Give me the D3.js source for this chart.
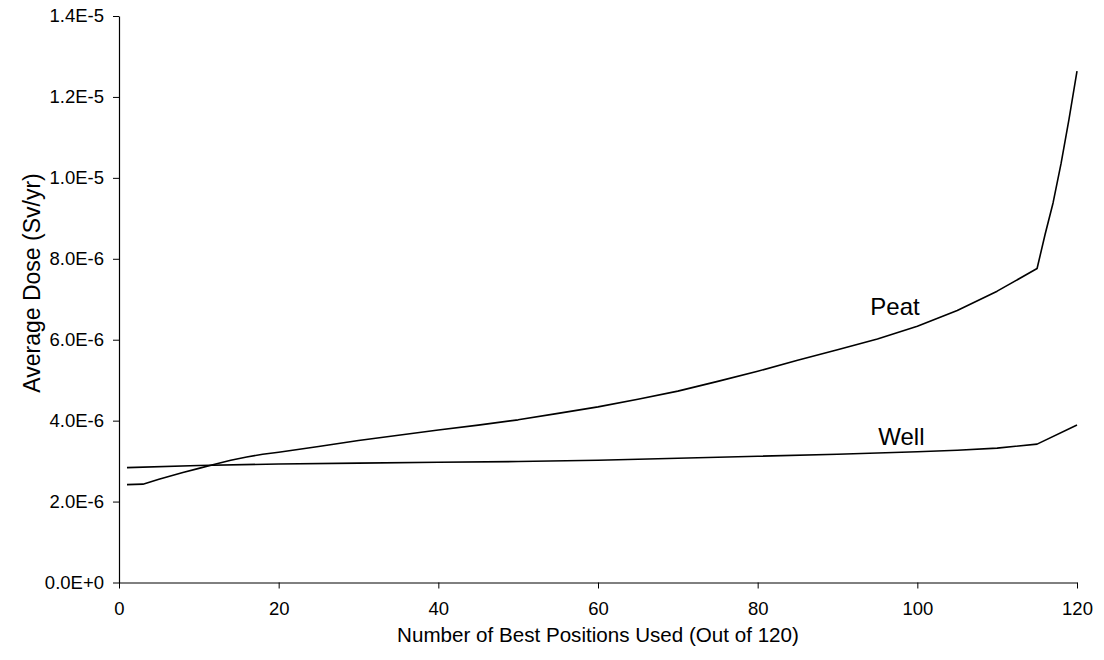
<!DOCTYPE html>
<html>
<head>
<meta charset="utf-8">
<script src="https://cdn.jsdelivr.net/npm/d3@7"></script>
<style>
  html, body { margin: 0; padding: 0; background: #fff; }
  svg { display: block; font-family: "Liberation Sans", Arial, sans-serif; }
</style>
</head>
<body>
<svg id="chart" width="1104" height="660"></svg>
<script>
// Data
const peatX = [1, 3, 5, 8, 10, 12, 14, 16, 18, 20, 25, 30, 35, 40, 45, 50, 55, 60, 65, 70, 75, 80, 85, 90, 95, 100, 105, 110, 115, 116, 117, 118, 119, 120];
const peatY = [2.42, 2.43, 2.55, 2.72, 2.82, 2.92, 3.02, 3.10, 3.17, 3.22, 3.36, 3.51, 3.64, 3.77, 3.89, 4.02, 4.18, 4.34, 4.53, 4.73, 4.97, 5.22, 5.49, 5.75, 6.02, 6.33, 6.72, 7.20, 7.76, 8.60, 9.38, 10.35, 11.45, 12.64].map(v => v * 1e-6);
const wellX = [1, 10, 20, 30, 40, 50, 60, 70, 80, 90, 95, 100, 105, 110, 115, 120];
const wellY = [2.84, 2.89, 2.93, 2.95, 2.97, 2.99, 3.02, 3.07, 3.12, 3.17, 3.20, 3.23, 3.27, 3.32, 3.42, 3.89].map(v => v * 1e-6);
const xTicks = [0, 20, 40, 60, 80, 100, 120];
const yTicks = [0, 2e-6, 4e-6, 6e-6, 8e-6, 1e-5, 1.2e-5, 1.4e-5];
const seriesLabels = [
  { name: "Peat", x: 97.2, y: 6.6e-6 },
  { name: "Well", x: 98.0, y: 3.4e-6 }
];
const xTitle = "Number of Best Positions Used (Out of 120)";
const yTitle = "Average Dose (Sv/yr)";

const svg = d3.select("#chart");
const x = d3.scaleLinear().domain([0, 120]).range([119, 1077]);
const y = d3.scaleLinear().domain([0, 1.4e-5]).range([582.5, 16]);

function sci(v) {
  if (v === 0) return "0.0E+0";
  const e = Math.floor(Math.log10(v) + 1e-9);
  const m = v / Math.pow(10, e);
  return m.toFixed(1) + "E" + (e >= 0 ? "+" + e : e);
}

// X axis
const xAxis = svg.append("g")
  .attr("transform", "translate(0,582.5)")
  .call(d3.axisBottom(x).tickValues(xTicks).tickSize(6).tickSizeOuter(0).tickPadding(13));
xAxis.select(".domain").attr("stroke", "#000").attr("stroke-width", 1);
xAxis.selectAll(".tick line").attr("stroke", "#000");
xAxis.selectAll("text").attr("font-size", 18.5).attr("fill", "#000")
  .attr("font-family", "Liberation Sans, Arial, sans-serif");

// Y axis
const yAxis = svg.append("g")
  .attr("transform", "translate(119,0)")
  .call(d3.axisLeft(y).tickValues(yTicks).tickFormat(sci).tickSize(6).tickSizeOuter(0).tickPadding(9));
yAxis.select(".domain").attr("stroke", "#000").attr("stroke-width", 1.2);
yAxis.selectAll(".tick line").attr("stroke", "#000");
yAxis.selectAll("text").attr("font-size", 18.5).attr("fill", "#000")
  .attr("font-family", "Liberation Sans, Arial, sans-serif");

// Lines
const line = d3.line().x(d => x(d[0])).y(d => y(d[1])).curve(d3.curveLinear);
svg.append("path")
  .datum(peatX.map((v, i) => [v, peatY[i]]))
  .attr("d", line).attr("fill", "none").attr("stroke", "#000").attr("stroke-width", 1.6)
  .attr("stroke-linejoin", "round");
svg.append("path")
  .datum(wellX.map((v, i) => [v, wellY[i]]))
  .attr("d", line).attr("fill", "none").attr("stroke", "#000").attr("stroke-width", 1.6)
  .attr("stroke-linejoin", "round");

// Series labels
svg.selectAll("text.series").data(seriesLabels).enter().append("text")
  .attr("class", "series")
  .attr("x", d => x(d.x)).attr("y", d => y(d.y))
  .attr("text-anchor", "middle")
  .attr("font-size", 24)
  .attr("fill", "#000")
  .text(d => d.name);

// Axis titles
svg.append("text")
  .attr("x", 598).attr("y", 642)
  .attr("text-anchor", "middle").attr("font-size", 20.6).attr("fill", "#000")
  .text(xTitle);
svg.append("text")
  .attr("transform", "translate(40,283) rotate(-90)")
  .attr("text-anchor", "middle").attr("font-size", 23).attr("fill", "#000")
  .text(yTitle);
</script>
</body>
</html>
